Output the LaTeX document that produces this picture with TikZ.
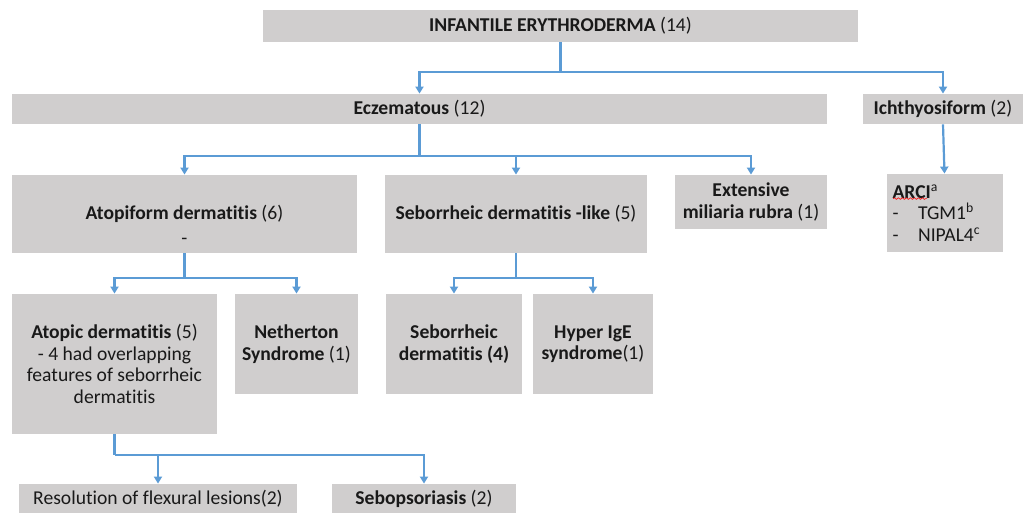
\documentclass[tikz,border=0pt]{standalone}
\usepackage{fontspec}
\setmainfont{Carlito}[Ligatures=NoCommon]
\usetikzlibrary{arrows.meta,decorations.pathmorphing}
\definecolor{boxgray}{HTML}{D0CECE}
\definecolor{linkblue}{HTML}{5B9BD5}
\begin{document}
\begin{tikzpicture}[x=0.5pt, y=-0.5pt,
        box/.style={rectangle, fill=boxgray, inner sep=2pt, align=center, text=black!90, font=\fontsize{9.8}{10.8}\selectfont},
        link/.style={linkblue, line width=1.1pt},
        arrow/.style={-{Triangle[width=4pt,length=3.5pt]}, linkblue, line width=1.1pt}
    ]
        \useasboundingbox (0,0) rectangle (1024,513);
        % Boxes
        \node[box, minimum width=297.5pt, minimum height=16pt] (root) at (560.5,26) {\textbf{INFANTILE ERYTHRODERMA} (14)};
        
        \node[box, minimum width=407.5pt, minimum height=15pt] (eczema) at (419.5,109) {\textbf{Eczematous} (12)};
        \node[box, minimum width=80pt, minimum height=15pt] (ichthy) at (943,109) {\textbf{Ichthyosiform} (2)};
        
        \node[box, minimum width=172.5pt, minimum height=39pt] (atopiform) at (184.5,214) {~\\[7.5pt]\textbf{Atopiform dermatitis} (6)\\[1.7pt]-};
        \node[box, minimum width=131pt, minimum height=39pt] (seblike) at (516,214) {\textbf{Seborrheic dermatitis -like} (5)};
        \node[box, minimum width=76pt, minimum height=27pt] (miliaria) at (751,202) {\textbf{Extensive}\\\textbf{miliaria rubra} (1)};
        \node[box, minimum width=58pt, minimum height=39pt, align=left, text width=52pt, inner xsep=3pt] (arci) at (944.5,213) {\textbf{ARCI}\textsuperscript{a}\\-\hspace{1em}TGM1\textsuperscript{b}\\-\hspace{1em}NIPAL4\textsuperscript{c}};
        
        \node[box, minimum width=102.5pt, minimum height=70pt] (atopic) at (114.5,364) {\textbf{Atopic dermatitis} (5)\\- 4 had overlapping\\features of seborrheic\\dermatitis};
        \node[box, minimum width=61.5pt, minimum height=50pt] (netherton) at (296.5,344) {\textbf{Netherton}\\\textbf{Syndrome} (1)};
        \node[box, minimum width=68pt, minimum height=50pt] (sebderm) at (454,344) {\textbf{Seborrheic}\\\textbf{dermatitis (4)}};
        \node[box, minimum width=60pt, minimum height=50pt] (hyperige) at (593,344) {\textbf{Hyper IgE}\\\textbf{syndrome}(1)};
        
        \node[box, minimum width=139pt, minimum height=14.5pt] (flexural) at (158,498.5) {Resolution of flexural lesions(2)};
        \node[box, minimum width=92pt, minimum height=14.5pt] (sebopso) at (424,498.5) {\textbf{Sebopsoriasis} (2)};
        
        % spell-check mark under ARCI
        \draw[red, line width=0.3pt, decorate, decoration={snake, amplitude=0.4pt, segment length=2pt}] ([shift={(7,25)}]arci.north west) -- ++(34,0);
        
        % Arrows
        \draw[link] (root.south) -- ++(0,30) coordinate (rootjoin);
        \draw[arrow] (rootjoin) -| (eczema.north);
        \draw[arrow] (rootjoin) -| (ichthy.north);
        
        \draw[link] (eczema.south) -- ++(0,32) coordinate (eczemajoin);
        \draw[arrow] (eczemajoin) -| (atopiform.north);
        \draw[arrow] (eczemajoin) -| (seblike.north);
        \draw[arrow] (eczemajoin) -| (miliaria.north);
        
        \draw[arrow] (ichthy.south) -- (arci.north);
        
        \draw[link] (atopiform.south) -- ++(0,25) coordinate (atopiformjoin);
        \draw[arrow] (atopiformjoin) -| (atopic.north);
        \draw[arrow] (atopiformjoin) -| (netherton.north);
        
        \draw[link] (seblike.south) -- ++(0,25) coordinate (seblikejoin);
        \draw[arrow] (seblikejoin) -| (sebderm.north);
        \draw[arrow] (seblikejoin) -| (hyperige.north);
        
        \draw[link] (atopic.south) -- ++(0,21) coordinate (atopicjoin);
        \draw[arrow] (atopicjoin) -| (flexural.north);
        \draw[arrow] (atopicjoin) -| (sebopso.north);
    \end{tikzpicture}
\end{document}
